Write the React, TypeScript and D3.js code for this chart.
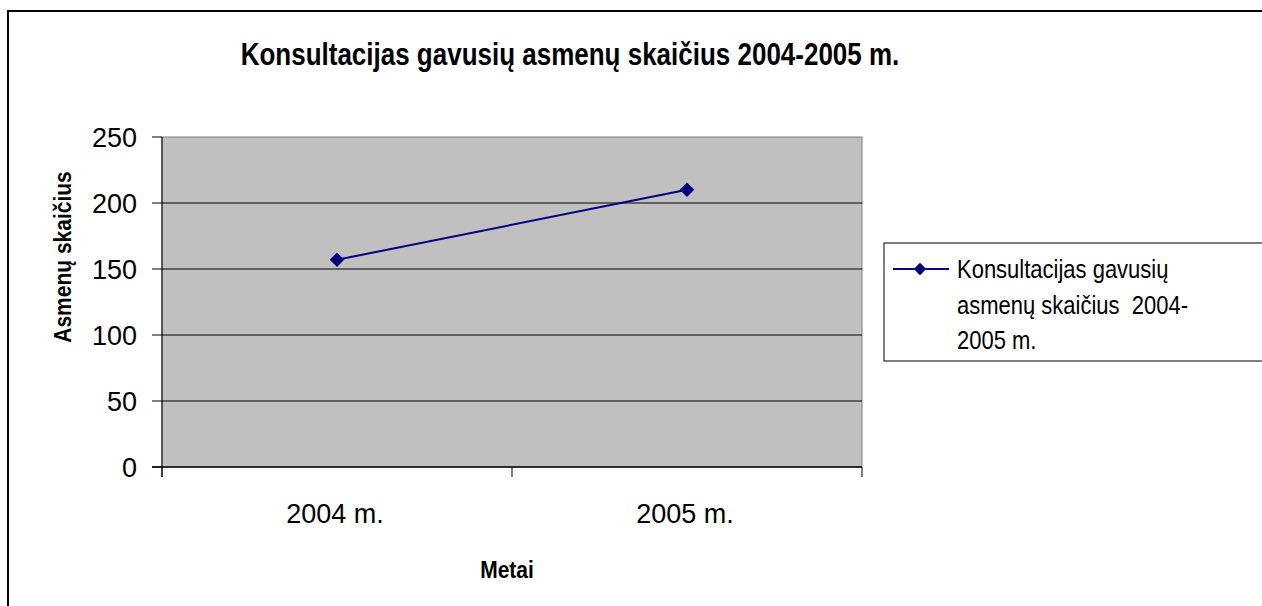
import React from 'react';
import * as d3 from 'd3';

const categories = ['2004 m.', '2005 m.'];
const values = [157, 210];
const yTicks = [0, 50, 100, 150, 200, 250];
const seriesName = 'Konsultacijas gavusių asmenų skaičius 2004-2005 m.';
const legendLines = ['Konsultacijas gavusių', 'asmenų skaičius  2004-', '2005 m.'];

const W = 1262;
const H = 606;
const plot = { left: 162, top: 137, right: 862, bottom: 467 };
const font = '"Liberation Sans", Arial, sans-serif';
const lineColor = '#000080';
const stretch = 1.18; // the source text is a bit taller than wide

const App: React.FC = () => {
  const x = d3.scaleBand<string>()
    .domain(categories)
    .range([plot.left, plot.right]);
  const y = d3.scaleLinear()
    .domain([0, 250])
    .range([plot.bottom, plot.top]);

  const pts = categories.map((c, i) => [x(c)! + x.bandwidth() / 2, y(values[i])] as [number, number]);
  const line = d3.line()(pts);
  const diamond = d3.symbol(d3.symbolDiamond2, 135)();

  // x tick positions at band edges
  const xTickPos = [plot.left, ...categories.map(c => x(c)! + x.bandwidth())];

  return (
    <svg width={W} height={H} style={{ position: 'absolute', left: 0, top: 0, background: '#fff' }}
      fontFamily={font}>
      {/* outer chart border */}
      <rect x={8} y={11} width={1400} height={800} fill="none" stroke="#000" strokeWidth={2} />

      {/* title */}
      <text transform={`translate(570,65) scale(1,${stretch})`} textAnchor="middle" fontSize={26} fontWeight="bold">{seriesName}</text>

      {/* plot area */}
      <rect x={plot.left} y={plot.top} width={plot.right - plot.left} height={plot.bottom - plot.top}
        fill="#c0c0c0" stroke="#808080" strokeWidth={1} />

      {/* gridlines */}
      {yTicks.filter(t => t > 0 && t < 250).map(t => (
        <line key={t} x1={plot.left} x2={plot.right} y1={y(t)} y2={y(t)} stroke="#000" strokeWidth={1} />
      ))}

      {/* y axis */}
      <line x1={plot.left} x2={plot.left} y1={plot.top} y2={plot.bottom + 10} stroke="#000" strokeWidth={1} />
      {yTicks.map(t => (
        <g key={t}>
          <line x1={plot.left - 10} x2={plot.left} y1={y(t)} y2={y(t)} stroke="#000" strokeWidth={1} />
          <text x={137} y={y(t)} dy="0.36em" textAnchor="end" fontSize={27}>{t}</text>
        </g>
      ))}

      {/* x axis */}
      <line x1={plot.left - 10} x2={plot.right} y1={plot.bottom} y2={plot.bottom} stroke="#000" strokeWidth={1.5} />
      {xTickPos.map((p, i) => (
        <line key={i} x1={p} x2={p} y1={plot.bottom} y2={plot.bottom + 10} stroke="#000" strokeWidth={1} />
      ))}
      {categories.map(c => (
        <text key={c} x={x(c)! + x.bandwidth() / 2 - 2} y={523} textAnchor="middle" fontSize={27}>{c}</text>
      ))}

      {/* axis titles */}
      <text transform={`translate(507,578) scale(1,${stretch})`} textAnchor="middle" fontSize={21} fontWeight="bold">Metai</text>
      <text transform={`translate(71,257) rotate(-90) scale(1,${stretch})`} textAnchor="middle" fontSize={21} fontWeight="bold">Asmenų skaičius</text>

      {/* series */}
      <path d={line ?? ''} fill="none" stroke={lineColor} strokeWidth={2} />
      {pts.map((p, i) => (
        <path key={i} d={diamond ?? ''} transform={`translate(${p[0]},${p[1]})`} fill={lineColor} />
      ))}

      {/* legend */}
      <rect x={884} y={243} width={400} height={118} fill="#fff" stroke="#000" strokeWidth={1} />
      <line x1={893} x2={949} y1={269} y2={269} stroke={lineColor} strokeWidth={2} />
      <path d={d3.symbol(d3.symbolDiamond2, 100)() ?? ''} transform="translate(920,269)" fill={lineColor} />
      {legendLines.map((l, i) => (
        <text key={i} transform={`translate(957,${278 + i * 35.5}) scale(1,${stretch})`} fontSize={22} style={{ whiteSpace: 'pre' }}>{l}</text>
      ))}
    </svg>
  );
};

export default App;
